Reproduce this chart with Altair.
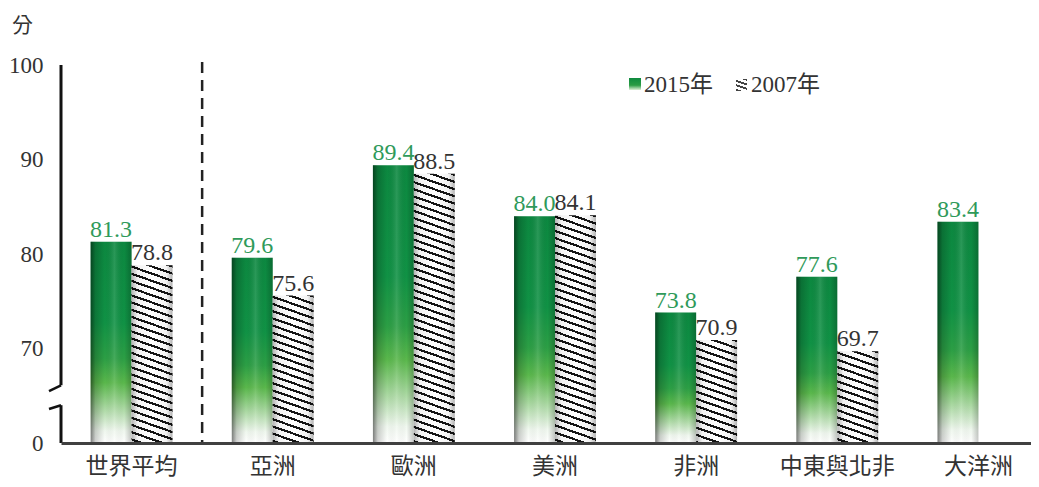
import altair as alt
import pandas as pd

# ---------------- data ----------------
categories = ["世界平均", "亞洲", "歐洲", "美洲", "非洲", "中東與北非", "大洋洲"]
values_2015 = [81.3, 79.6, 89.4, 84.0, 73.8, 77.6, 83.4]
values_2007 = [78.8, 75.6, 88.5, 84.1, 70.9, 69.7, None]
years = ["2015年", "2007年"]
y_ticks = [60, 70, 80, 90, 100]   # 60 is shown as "0" (axis break)

rows = []
for c, a, b in zip(categories, values_2015, values_2007):
    rows.append({"cat": c, "year": years[0], "value": a})
    if b is not None:
        rows.append({"cat": c, "year": years[1], "value": b})
df = pd.DataFrame(rows)
df["label"] = df["value"].map(lambda v: f"{v:.1f}")

# ---------------- geometry / style ----------------
PLOT_H = 378
Y_MIN, Y_MAX = 60, 100
PX_PER_UNIT = PLOT_H / (Y_MAX - Y_MIN)
X_RANGE = 988
P_INNER = 0.42
BAR_W = X_RANGE / 7 * (1 - P_INNER) / 2

SERIF = "Liberation Serif, Noto Sans CJK TC"
CJK = "Noto Sans CJK TC, Noto Sans"
GREEN_TXT = "#2f9a5a"
DARK_TXT = "#333333"


def stops(pairs):
    return [alt.GradientStop(offset=o, color=c) for o, c in pairs]


green_grad = alt.LinearGradient(
    gradient="linear", x1=0, y1=0, x2=0, y2=1,
    stops=stops([(0, "#0c8840"), (0.4, "#109245"), (0.58, "#2c9f45"),
                 (0.70, "#5ab84c"), (0.83, "#acdaa4"), (0.94, "#f0f8ef"),
                 (1, "#ffffff")]))

cyl_green = alt.LinearGradient(
    gradient="linear", x1=0, y1=0, x2=1, y2=0,
    stops=stops([(0, "rgba(0,0,0,0.5)"), (0.12, "rgba(0,0,0,0.18)"),
                 (0.35, "rgba(0,0,0,0)"), (0.58, "rgba(255,255,255,0.12)"),
                 (0.82, "rgba(0,0,0,0)"), (1, "rgba(0,0,0,0.22)")]))

cyl_hatch = alt.LinearGradient(
    gradient="linear", x1=0, y1=0, x2=1, y2=0,
    stops=stops([(0, "rgba(0,0,0,0.3)"), (0.15, "rgba(0,0,0,0.05)"),
                 (0.5, "rgba(0,0,0,0)"),
                 (0.85, "rgba(0,0,0,0.05)"), (1, "rgba(0,0,0,0.3)")]))


def stripe_gradient(h, w, period=7.2, slope=0.35, dark=0.32,
                    c_dark="#141414", c_light="#ffffff"):
    dx = -slope * w / h
    s = (1 - dx) / (1 + dx * dx)
    n = (h + slope * w) / period
    st = []
    k = 0
    while k < n:
        t0 = k / n
        t1 = min((k + dark) / n, 1)
        t2 = min((k + 1) / n, 1)
        st += [(t0, c_dark), (t1, c_dark), (t1, c_light), (t2, c_light)]
        k += 1
    return alt.LinearGradient(gradient="linear", x1=1, y1=0,
                              x2=1 + s * dx, y2=s, stops=stops(st))


x_enc = alt.X("cat:N", sort=categories,
              scale=alt.Scale(domain=categories, range=[0, X_RANGE],
                              paddingInner=P_INNER, paddingOuter=P_INNER / 2),
              axis=alt.Axis(title="", labelAngle=0, ticks=False,
                            domainColor="#404040", domainWidth=3,
                            labelFont=CJK, labelFontSize=23,
                            labelColor=DARK_TXT, labelPadding=12, zindex=2))
xo_enc = alt.XOffset("year:N",
                     scale=alt.Scale(domain=years, paddingInner=0,
                                     paddingOuter=0))
y_scale = alt.Scale(domain=[Y_MIN, Y_MAX], zero=False, nice=False)
y_enc = alt.Y("value:Q", scale=y_scale, title="分",
              axis=alt.Axis(values=y_ticks, domain=False, ticks=False,
                            grid=False,
                            labelExpr="datum.value == 60 ? '0' : datum.label",
                            labelFont=SERIF, labelFontSize=23,
                            labelColor=DARK_TXT, labelPadding=18,
                            titleAngle=0, titleX=-39, titleY=-40,
                            titleAlign="center", titleBaseline="middle",
                            titleFont=CJK, titleFontSize=21,
                            titleFontWeight="normal", titleColor=DARK_TXT))
y_plain = alt.Y("value:Q", scale=y_scale, title="分")

base = alt.Chart(df).encode(x=x_enc, xOffset=xo_enc)

g = base.transform_filter(f"datum.year == '{years[0]}'")
green_bars = g.mark_bar(fill=green_grad).encode(y=y_enc, y2=alt.datum(Y_MIN))
green_cyl = g.mark_bar(fill=cyl_green).encode(y=y_plain, y2=alt.datum(Y_MIN))

hatch_layers = []
for c, b in zip(categories, values_2007):
    if b is None:
        continue
    h = (b - Y_MIN) * PX_PER_UNIT
    hatch_layers.append(
        base.transform_filter(f"datum.year == '{years[1]}' && datum.cat == '{c}'")
        .mark_bar(fill=stripe_gradient(h, BAR_W))
        .encode(y=y_plain, y2=alt.datum(Y_MIN)))
hatch_cyl = (base.transform_filter(f"datum.year == '{years[1]}'")
             .mark_bar(fill=cyl_hatch).encode(y=y_plain, y2=alt.datum(Y_MIN)))

labels = base.mark_text(font=SERIF, fontSize=24, baseline="alphabetic",
                        dy=-5).encode(
    y=y_plain, text="label:N",
    color=alt.Color("year:N", scale=alt.Scale(domain=years,
                                              range=[GREEN_TXT, DARK_TXT]),
                    legend=None))

# ---------------- decorations: y axis with break, divider, legend -------------
one = alt.Chart(pd.DataFrame({"k": [0]}))
AX = "#111111"
axis_up = one.mark_rule(color=AX, strokeWidth=3).encode(
    x=alt.value(0), y=alt.datum(100), y2=alt.datum(66.1))
tail_up = one.mark_rule(color=AX, strokeWidth=2.5).encode(
    x=alt.value(0), x2=alt.value(-12), y=alt.datum(66.1), y2=alt.datum(65.5))
tail_lo = one.mark_rule(color=AX, strokeWidth=2.5).encode(
    x=alt.value(-12), x2=alt.value(0), y=alt.datum(63.6), y2=alt.datum(64.0))
axis_lo = one.mark_rule(color=AX, strokeWidth=3).encode(
    x=alt.value(0), y=alt.datum(64.0), y2=alt.datum(Y_MIN))

divider = one.mark_rule(color="#222222", strokeWidth=2.5,
                        strokeDash=[11, 7]).encode(
    x=alt.value(X_RANGE / 7), y=alt.value(-3), y2=alt.value(PLOT_H))

leg_green_grad = alt.LinearGradient(
    gradient="linear", x1=0, y1=0, x2=0, y2=1,
    stops=stops([(0, "#0f8a3f"), (0.6, "#2a9c44"), (1, "#dff0d8")]))
leg_g = one.mark_rect(fill=leg_green_grad).encode(
    x=alt.value(568), x2=alt.value(580), y=alt.value(13), y2=alt.value(25))
leg_h = one.mark_rect(fill=stripe_gradient(12, 11, period=4.5, dark=0.45,
                                           c_dark="#444444")).encode(
    x=alt.value(675), x2=alt.value(686), y=alt.value(14), y2=alt.value(26))
leg_t1 = one.mark_text(align="left", baseline="middle", font=SERIF,
                       fontSize=23, color=DARK_TXT).encode(
    x=alt.value(583), y=alt.value(20), text=alt.value(years[0]))
leg_t2 = one.mark_text(align="left", baseline="middle", font=SERIF,
                       fontSize=23, color=DARK_TXT).encode(
    x=alt.value(690), y=alt.value(20), text=alt.value(years[1]))

chart = alt.layer(
    green_bars, green_cyl, *hatch_layers, hatch_cyl, labels,
    divider, axis_up, tail_up, tail_lo, axis_lo,
    leg_g, leg_h, leg_t1, leg_t2,
).properties(
    width=970, height=PLOT_H,
    autosize=alt.AutoSizeParams(type="none"),
    padding={"left": 53, "top": 57, "right": 0, "bottom": 36},
    background="white",
).configure_view(stroke=None)

chart.save("out.html", embed_options={"renderer": "svg", "actions": False})
